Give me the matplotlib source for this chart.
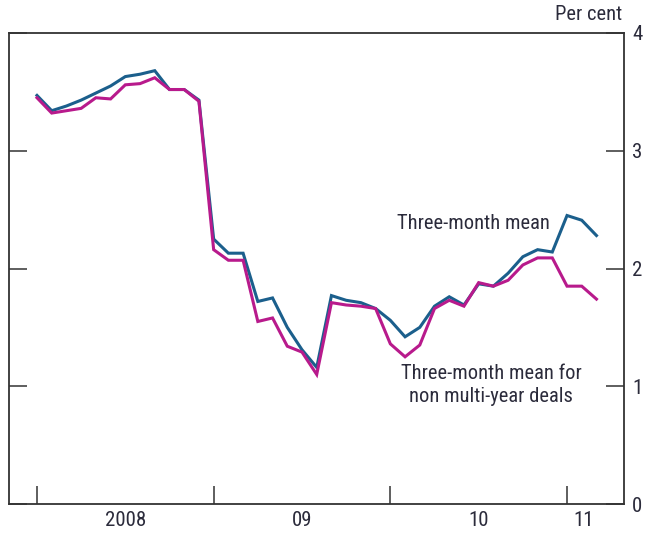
import numpy as np
import matplotlib.pyplot as plt
from matplotlib import font_manager

# narrow humanist face if there is one
installed = {f.name for f in font_manager.fontManager.ttflist}
for fam in ['Liberation Sans Narrow', 'Roboto Condensed', 'Lato']:
    if fam in installed:
        break
plt.rcParams['font.family'] = [fam, 'DejaVu Sans']

# monthly, Jan 2008 .. Mar 2011 (index 0 = Jan 2008)
months = np.arange(39)
three_month_mean = [3.47, 3.34, 3.38, 3.43, 3.49, 3.55, 3.63, 3.65, 3.68, 3.52,
                    3.52, 3.43, 2.25, 2.13, 2.13, 1.72, 1.75, 1.50, 1.31, 1.16,
                    1.77, 1.73, 1.71, 1.66, 1.56, 1.42, 1.50, 1.68, 1.76, 1.69,
                    1.87, 1.85, 1.96, 2.10, 2.16, 2.14, 2.45, 2.41, 2.28]
non_multi_year = [3.45, 3.32, 3.34, 3.36, 3.45, 3.44, 3.56, 3.57, 3.62, 3.52,
                  3.52, 3.42, 2.16, 2.07, 2.07, 1.55, 1.58, 1.34, 1.29, 1.10,
                  1.71, 1.69, 1.68, 1.66, 1.36, 1.25, 1.35, 1.66, 1.73, 1.68,
                  1.88, 1.85, 1.90, 2.03, 2.09, 2.09, 1.85, 1.85, 1.74]
year_ticks = [0, 12, 24, 36]
year_label_pos = [6, 18, 30, 37.1]
year_labels = ['2008', '09', '10', '11']

blue = '#1b5f8c'
pink = '#b81a8c'
text_col = '#2b2b3b'
frame_col = '#333333'

fig = plt.figure(figsize=(6.47, 5.33), dpi=100)
ax = fig.add_axes([9 / 647, 1 - 504 / 533, 615 / 647, 471 / 533])

ax.plot(months, three_month_mean, color=blue, linewidth=2.2, solid_joinstyle='miter')
ax.plot(months, non_multi_year, color=pink, linewidth=2.2, solid_joinstyle='miter')

ax.set_xlim(-1.9, 39.87)
ax.set_ylim(0, 4)

for s in ax.spines.values():
    s.set_color(frame_col)
    s.set_linewidth(1.3)

# y axis: labels on right, ticks inward both sides
ax.set_yticks([0, 1, 2, 3, 4])
ax.tick_params(axis='y', which='major', direction='in', length=13, width=1.1,
               color=frame_col, left=True, right=True, labelleft=False,
               labelright=True, labelsize=15, labelcolor=text_col, pad=6)

# x axis: year boundaries ticked, labels centred in between
ax.set_xticks(year_ticks)
ax.set_xticklabels([])
ax.set_xticks(year_label_pos, minor=True)
ax.set_xticklabels(year_labels, minor=True)
ax.tick_params(axis='x', which='major', direction='in', length=13, width=1.1,
               color=frame_col)
ax.tick_params(axis='x', which='minor', length=0, labelsize=15,
               labelcolor=text_col, pad=5)

ax.text(24.46, 2.38, 'Three-month mean', color=text_col, fontsize=14.8,
        ha='left', va='center')
ax.text(30.84, 1.01, 'Three-month mean for\nnon multi-year deals', color=text_col,
        fontsize=14.8, ha='center', va='center', linespacing=1.3)

fig.text(622 / 647, 1 - 15 / 533, 'Per cent', color=text_col, fontsize=14.8,
         ha='right', va='center')

fig.savefig('out.png', dpi=100)
